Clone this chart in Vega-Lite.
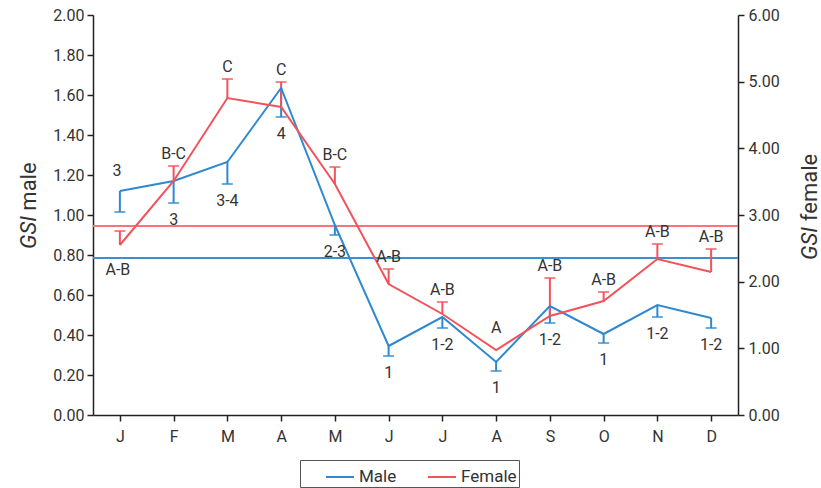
{
  "$schema": "https://vega.github.io/schema/vega-lite/v6.json",
  "width": 645,
  "height": 400,
  "autosize": "none",
  "padding": {"left": 93, "top": 15, "right": 83, "bottom": 73},
  "background": "white",
  "config": {
    "font": "Roboto",
    "view": {"stroke": null},
    "axis": {
      "labelFont": "Roboto",
      "labelFontSize": 16,
      "labelColor": "#333333",
      "titleFont": "Roboto",
      "titleFontSize": 22,
      "titleFontWeight": "normal",
      "titleColor": "#333333",
      "domainColor": "#222222",
      "tickColor": "#222222",
      "domainWidth": 1.5,
      "tickWidth": 1.5,
      "tickSize": 6,
      "grid": false
    },
    "legend": {
      "labelFont": "Roboto",
      "labelFontSize": 16,
      "labelColor": "#333333"
    },
    "text": {"font": "Roboto", "fontSize": 16, "fill": "#333333", "baseline": "middle"}
  },
  "data": {
    "values": [
      {"month": "Jan", "male": 1.12, "maleLow": 1.015, "maleLab": "3", "female": 2.55, "femaleHigh": 2.76, "femaleLab": "A-B"},
      {"month": "Feb", "male": 1.17, "maleLow": 1.06, "maleLab": "3", "female": 3.51, "femaleHigh": 3.735, "femaleLab": "B-C"},
      {"month": "Mar", "male": 1.265, "maleLow": 1.155, "maleLab": "3-4", "female": 4.755, "femaleHigh": 5.04, "femaleLab": "C"},
      {"month": "Apr", "male": 1.635, "maleLow": 1.49, "maleLab": "4", "female": 4.62, "femaleHigh": 4.995, "femaleLab": "C"},
      {"month": "May", "male": 0.95, "maleLow": 0.9, "maleLab": "2-3", "female": 3.465, "femaleHigh": 3.72, "femaleLab": "B-C"},
      {"month": "Jun", "male": 0.345, "maleLow": 0.295, "maleLab": "1", "female": 1.965, "femaleHigh": 2.19, "femaleLab": "A-B"},
      {"month": "Jul", "male": 0.49, "maleLow": 0.435, "maleLab": "1-2", "female": 1.515, "femaleHigh": 1.695, "femaleLab": "A-B"},
      {"month": "Aug", "male": 0.265, "maleLow": 0.22, "maleLab": "1", "female": 0.975, "femaleHigh": null, "femaleLab": "A"},
      {"month": "Sep", "male": 0.545, "maleLow": 0.46, "maleLab": "1-2", "female": 1.485, "femaleHigh": 2.055, "femaleLab": "A-B"},
      {"month": "Oct", "male": 0.405, "maleLow": 0.36, "maleLab": "1", "female": 1.71, "femaleHigh": 1.845, "femaleLab": "A-B"},
      {"month": "Nov", "male": 0.55, "maleLow": 0.49, "maleLab": "1-2", "female": 2.34, "femaleHigh": 2.565, "femaleLab": "A-B"},
      {"month": "Dec", "male": 0.485, "maleLow": 0.435, "maleLab": "1-2", "female": 2.145, "femaleHigh": 2.49, "femaleLab": "A-B"}
    ]
  },
  "layer": [
    {
      "mark": {"type": "rule", "color": "#3a8fd3", "strokeWidth": 1.2},
      "encoding": {"y": {"datum": 0.785, "type": "quantitative", "scale": {"domain": [0, 2]}, "axis": null}}
    },
    {
      "mark": {"type": "rule", "color": "#f4767c", "strokeWidth": 1.2},
      "encoding": {"y": {"datum": 2.835, "type": "quantitative", "scale": {"domain": [0, 6]}, "axis": null}}
    },
    {
      "mark": {"type": "rule", "color": "#2f89d0", "strokeWidth": 2},
      "encoding": {
        "x": {"field": "month", "type": "ordinal", "sort": null, "scale": {"type": "point", "padding": 0.5}, "axis": {"title": null, "labelAngle": 0, "labelExpr": "substring(datum.label,0,1)", "labelPadding": 7}},
        "y": {"field": "male", "type": "quantitative", "scale": {"domain": [0, 2]}, "axis": null},
        "y2": {"field": "maleLow"}
      }
    },
    {
      "mark": {"type": "tick", "color": "#2f89d0", "size": 11, "thickness": 2},
      "encoding": {
        "x": {"field": "month", "type": "ordinal", "sort": null, "scale": {"type": "point", "padding": 0.5}, "axis": {"title": null, "labelAngle": 0, "labelExpr": "substring(datum.label,0,1)", "labelPadding": 7}},
        "y": {"field": "maleLow", "type": "quantitative", "scale": {"domain": [0, 2]}, "axis": null}
      }
    },
    {
      "transform": [{"filter": "isValid(datum.femaleHigh)"}],
      "mark": {"type": "rule", "color": "#f2535b", "strokeWidth": 2},
      "encoding": {
        "x": {"field": "month", "type": "ordinal", "sort": null, "scale": {"type": "point", "padding": 0.5}, "axis": {"title": null, "labelAngle": 0, "labelExpr": "substring(datum.label,0,1)", "labelPadding": 7}},
        "y": {"field": "female", "type": "quantitative", "scale": {"domain": [0, 6]}, "axis": null},
        "y2": {"field": "femaleHigh"}
      }
    },
    {
      "transform": [{"filter": "isValid(datum.femaleHigh)"}],
      "mark": {"type": "tick", "color": "#f2535b", "size": 11, "thickness": 2},
      "encoding": {
        "x": {"field": "month", "type": "ordinal", "sort": null, "scale": {"type": "point", "padding": 0.5}, "axis": {"title": null, "labelAngle": 0, "labelExpr": "substring(datum.label,0,1)", "labelPadding": 7}},
        "y": {"field": "femaleHigh", "type": "quantitative", "scale": {"domain": [0, 6]}, "axis": null}
      }
    },
    {
      "mark": {"type": "line", "strokeWidth": 2},
      "encoding": {
        "x": {"field": "month", "type": "ordinal", "sort": null, "scale": {"type": "point", "padding": 0.5}, "axis": {"title": null, "labelAngle": 0, "labelExpr": "substring(datum.label,0,1)", "labelPadding": 7}},
        "y": {"field": "male", "type": "quantitative", "scale": {"domain": [0, 2]},
          "axis": {"orient": "left", "values": [0, 0.2, 0.4, 0.6, 0.8, 1, 1.2, 1.4, 1.6, 1.8, 2], "format": ".2f", "labelPadding": 3, "title": "male", "titleAngle": 270, "titleAlign": "center", "titleBaseline": "alphabetic", "titleX": -58, "titleY": 171}},
        "color": {"datum": "Male", "type": "nominal", "scale": {"domain": ["Male", "Female"], "range": ["#2f89d0", "#f2535b"]},
          "legend": {"title": null, "orient": "none", "legendX": 207, "legendY": 445, "direction": "horizontal", "symbolType": "stroke", "symbolSize": 784, "symbolStrokeWidth": 2, "strokeColor": "#555555", "fillColor": "white", "padding": 2, "labelOffset": 4, "columnPadding": 7, "symbolOffset": 23, "labelFontSize": 17}}
      }
    },
    {
      "mark": {"type": "line", "strokeWidth": 2},
      "encoding": {
        "x": {"field": "month", "type": "ordinal", "sort": null, "scale": {"type": "point", "padding": 0.5}, "axis": {"title": null, "labelAngle": 0, "labelExpr": "substring(datum.label,0,1)", "labelPadding": 7}},
        "y": {"field": "female", "type": "quantitative", "scale": {"domain": [0, 6]},
          "axis": {"orient": "right", "values": [0, 1, 2, 3, 4, 5, 6], "format": ".2f", "labelPadding": 4, "title": "female", "titleAngle": 270, "titleAlign": "center", "titleBaseline": "alphabetic", "titleX": 78, "titleY": 172}},
        "color": {"datum": "Female", "type": "nominal"}
      }
    },
    {
      "transform": [{"filter": "datum.month != 'Jan'"}],
      "mark": {"type": "text", "dy": 17},
      "encoding": {
        "x": {"field": "month", "type": "ordinal", "sort": null, "scale": {"type": "point", "padding": 0.5}, "axis": {"title": null, "labelAngle": 0, "labelExpr": "substring(datum.label,0,1)", "labelPadding": 7}},
        "y": {"field": "maleLow", "type": "quantitative", "scale": {"domain": [0, 2]}, "axis": null},
        "text": {"field": "maleLab"}
      }
    },
    {
      "transform": [{"filter": "datum.month == 'Jan'"}],
      "mark": {"type": "text", "dy": -20, "dx": -3},
      "encoding": {
        "x": {"field": "month", "type": "ordinal", "sort": null, "scale": {"type": "point", "padding": 0.5}, "axis": {"title": null, "labelAngle": 0, "labelExpr": "substring(datum.label,0,1)", "labelPadding": 7}},
        "y": {"field": "male", "type": "quantitative", "scale": {"domain": [0, 2]}, "axis": null},
        "text": {"field": "maleLab"}
      }
    },
    {
      "transform": [{"filter": "datum.month != 'Jan' && isValid(datum.femaleHigh)"}],
      "mark": {"type": "text", "dy": -12},
      "encoding": {
        "x": {"field": "month", "type": "ordinal", "sort": null, "scale": {"type": "point", "padding": 0.5}, "axis": {"title": null, "labelAngle": 0, "labelExpr": "substring(datum.label,0,1)", "labelPadding": 7}},
        "y": {"field": "femaleHigh", "type": "quantitative", "scale": {"domain": [0, 6]}, "axis": null},
        "text": {"field": "femaleLab"}
      }
    },
    {
      "transform": [{"filter": "datum.month == 'Jan'"}],
      "mark": {"type": "text", "dy": 25, "dx": -2},
      "encoding": {
        "x": {"field": "month", "type": "ordinal", "sort": null, "scale": {"type": "point", "padding": 0.5}, "axis": {"title": null, "labelAngle": 0, "labelExpr": "substring(datum.label,0,1)", "labelPadding": 7}},
        "y": {"field": "female", "type": "quantitative", "scale": {"domain": [0, 6]}, "axis": null},
        "text": {"field": "femaleLab"}
      }
    },
    {
      "transform": [{"filter": "!isValid(datum.femaleHigh)"}],
      "mark": {"type": "text", "dy": -22},
      "encoding": {
        "x": {"field": "month", "type": "ordinal", "sort": null, "scale": {"type": "point", "padding": 0.5}, "axis": {"title": null, "labelAngle": 0, "labelExpr": "substring(datum.label,0,1)", "labelPadding": 7}},
        "y": {"field": "female", "type": "quantitative", "scale": {"domain": [0, 6]}, "axis": null},
        "text": {"field": "femaleLab"}
      }
    },
    {
      "mark": {"type": "rule", "strokeOpacity": 0},
      "encoding": {
        "y": {"datum": 0, "type": "quantitative", "scale": {"domain": [0, 2]},
          "axis": {"orient": "left", "labels": false, "ticks": false, "domain": false, "title": "GSI", "titleFontStyle": "italic", "titleAngle": 270, "titleAlign": "center", "titleBaseline": "alphabetic", "titleX": -58, "titleY": 217}}
      }
    },
    {
      "mark": {"type": "rule", "strokeOpacity": 0},
      "encoding": {
        "y": {"datum": 0, "type": "quantitative", "scale": {"domain": [0, 6]},
          "axis": {"orient": "right", "labels": false, "ticks": false, "domain": false, "title": "GSI", "titleFontStyle": "italic", "titleAngle": 270, "titleAlign": "center", "titleBaseline": "alphabetic", "titleX": 78, "titleY": 228}}
      }
    }
  ],
  "resolve": {"scale": {"y": "independent"}}
}
